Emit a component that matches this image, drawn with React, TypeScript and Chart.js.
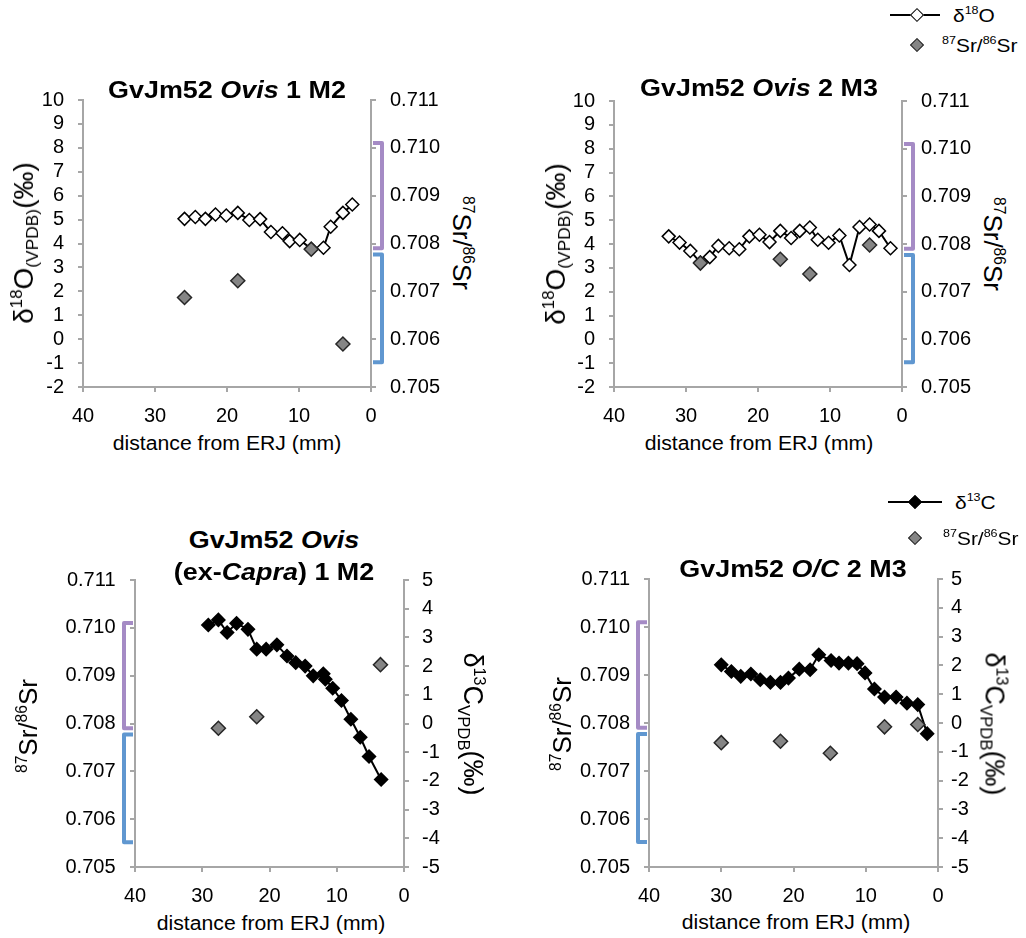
import React, { useEffect, useRef } from 'react';
import { Chart, registerables } from 'chart.js';
Chart.register(...registerables);

const FONT = '"Liberation Sans", Arial, Helvetica, sans-serif';
const AXIS_GRAY = '#A6A6A6';
const PURPLE = '#A58BC5';
const BLUE = '#6097D0';

// ---- data ----
// Top-left: GvJm52 Ovis 1 M2
const o1X = [25.9, 24.4, 23.0, 21.6, 20.1, 18.5, 16.9, 15.4, 13.9, 12.3, 11.3, 9.9, 8.3, 6.6, 5.6, 3.9, 2.6];
const o1Y = [5.03, 5.11, 5.03, 5.21, 5.17, 5.28, 4.98, 5.02, 4.48, 4.43, 4.1, 4.15, 3.78, 3.82, 4.7, 5.28, 5.63];
const s1X = [25.9, 18.5, 8.3, 3.9];
const s1Y = [0.70687, 0.70722, 0.70788, 0.7059];

// Top-right: GvJm52 Ovis 2 M3
const o2X = [32.4, 30.9, 29.4, 28.0, 26.7, 25.5, 24.0, 22.6, 21.2, 19.8, 18.4, 16.9, 15.4, 14.2, 12.8, 11.7, 10.2, 8.7, 7.3, 5.9, 4.5, 3.2, 1.6];
const o2Y = [4.32, 4.06, 3.71, 3.22, 3.45, 3.92, 3.82, 3.78, 4.32, 4.39, 4.08, 4.55, 4.25, 4.55, 4.69, 4.18, 4.05, 4.36, 3.12, 4.71, 4.82, 4.55, 3.82];
const s2X = [28.0, 16.9, 12.8, 4.5];
const s2Y = [0.7076, 0.70768, 0.70737, 0.70798];

// Bottom-left: GvJm52 Ovis (ex-Capra) 1 M2
const c3X = [29.1, 27.6, 26.3, 24.9, 23.2, 21.9, 20.5, 18.9, 17.4, 16.1, 14.7, 13.5, 12.0, 11.7, 10.6, 9.3, 7.9, 6.5, 5.2, 3.4];
const c3Y = [3.43, 3.61, 3.17, 3.49, 3.28, 2.59, 2.59, 2.74, 2.35, 2.12, 2.0, 1.66, 1.73, 1.54, 1.23, 0.8, 0.15, -0.48, -1.15, -1.95];
const s3X = [27.6, 21.9, 3.5];
const s3Y = [0.7079, 0.70814, 0.70923];

// Bottom-right: GvJm52 O/C 2 M3
const c4X = [30.0, 28.6, 27.3, 25.9, 24.6, 23.2, 21.8, 20.7, 19.2, 17.7, 16.5, 14.8, 13.7, 12.4, 11.2, 10.1, 8.8, 7.4, 5.8, 4.3, 2.8, 1.5];
const c4Y = [2.02, 1.79, 1.62, 1.7, 1.5, 1.41, 1.41, 1.56, 1.87, 1.85, 2.37, 2.17, 2.08, 2.08, 2.06, 1.74, 1.18, 0.9, 0.9, 0.69, 0.64, -0.37];
const s4X = [30.0, 21.8, 14.9, 7.4, 2.8];
const s4Y = [0.70759, 0.70762, 0.70737, 0.70792, 0.70797];

// Sr range brackets
const bracketPurple = [0.7079, 0.7101];
const bracketBlue = [0.70552, 0.70777];

// axis ranges / ticks
const xRange = [0, 40];
const xStep = 10;
const o18Range = [-2, 10];
const c13Range = [-5, 5];
const deltaStep = 1;
const srRange = [0.705, 0.711];
const srStep = 0.001;

type Geo = {
  leftW: number; rightW: number; padTop: number; xH: number;
  leftPad: number; rightPad: number;
};

const bracketPlugin = {
  id: 'srBrackets',
  afterDraw(chart: any, _args: any, opts: any) {
    const { ctx, chartArea } = chart;
    const scale = chart.scales[opts.axis];
    const dir = opts.side === 'right' ? 1 : -1;
    const edge = opts.side === 'right' ? chartArea.right : chartArea.left;
    const xv = edge + dir * 11;
    const xs = edge + dir * 2;
    const items: [number[], string][] = [[bracketPurple, PURPLE], [bracketBlue, BLUE]];
    ctx.save();
    ctx.lineWidth = 4;
    ctx.lineJoin = 'round';
    items.forEach(([r, col]) => {
      const y1 = scale.getPixelForValue(r[1]);
      const y2 = scale.getPixelForValue(r[0]);
      ctx.beginPath();
      ctx.moveTo(xs, y1);
      ctx.lineTo(xv, y1);
      ctx.lineTo(xv, y2);
      ctx.lineTo(xs, y2);
      ctx.strokeStyle = col;
      ctx.stroke();
    });
    ctx.restore();
  },
};

function makeConfig(
  lx: number[], ly: number[], open: boolean,
  sx: number[], sy: number[],
  srLeft: boolean, deltaRange: number[], g: Geo
): any {
  const tickFont = { family: FONT, size: 20 };
  const grid = { display: true, drawOnChartArea: false, drawTicks: true, tickLength: 5, color: AXIS_GRAY, lineWidth: 2 };
  const border = { display: true, color: AXIS_GRAY, width: 2 };
  const srScale = {
    type: 'linear', min: srRange[0], max: srRange[1],
    ticks: { stepSize: srStep, autoSkip: false, font: tickFont, color: '#000', callback: (v: any) => Number(v).toFixed(3) },
  };
  const dScale = {
    type: 'linear', min: deltaRange[0], max: deltaRange[1],
    ticks: { stepSize: deltaStep, autoSkip: false, font: tickFont, color: '#000' },
  };
  const leftBase = srLeft ? srScale : dScale;
  const rightBase = srLeft ? dScale : srScale;
  const fixV = (w: number) => (s: any) => { s.width = w; s.paddingTop = 0; s.paddingBottom = 0; };
  return {
    type: 'scatter',
    data: {
      datasets: [
        {
          label: 'Sr',
          data: sx.map((x, i) => ({ x, y: sy[i] })),
          yAxisID: srLeft ? 'yL' : 'yR',
          showLine: false,
          pointStyle: 'rectRot',
          pointRadius: 7,
          pointBackgroundColor: '#858585',
          pointBorderColor: '#262626',
          pointBorderWidth: 1.5,
        },
        {
          label: 'delta',
          data: lx.map((x, i) => ({ x, y: ly[i] })),
          yAxisID: srLeft ? 'yR' : 'yL',
          showLine: true,
          borderColor: '#000',
          borderWidth: 2,
          pointStyle: 'rectRot',
          pointRadius: 6.5,
          pointBackgroundColor: open ? '#fff' : '#000',
          pointBorderColor: '#000',
          pointBorderWidth: 1.5,
        },
      ],
    },
    options: {
      responsive: false,
      animation: false,
      layout: { padding: { top: g.padTop, left: 0, right: 0, bottom: 0 } },
      plugins: {
        legend: { display: false },
        tooltip: { enabled: false },
        srBrackets: { axis: srLeft ? 'yL' : 'yR', side: srLeft ? 'left' : 'right' },
      },
      scales: {
        x: {
          type: 'linear', reverse: true, min: xRange[0], max: xRange[1],
          ticks: { stepSize: xStep, autoSkip: false, font: tickFont, color: '#000', padding: 12, maxRotation: 0 },
          grid, border,
          afterFit: (s: any) => { s.height = g.xH; s.paddingLeft = 0; s.paddingRight = 0; },
        },
        yL: {
          ...leftBase, position: 'left',
          ticks: { ...leftBase.ticks, padding: g.leftPad },
          grid, border,
          afterFit: fixV(g.leftW),
        },
        yR: {
          ...rightBase, position: 'right',
          ticks: { ...rightBase.ticks, padding: g.rightPad },
          grid, border,
          afterFit: fixV(g.rightW),
        },
      },
    },
    plugins: [bracketPlugin],
  };
}

function ChartBox(props: { left: number; top: number; width: number; height: number; config: () => any }) {
  const ref = useRef<HTMLCanvasElement>(null);
  useEffect(() => {
    const chart = new Chart(ref.current as HTMLCanvasElement, props.config());
    return () => chart.destroy();
  }, []);
  return (
    <canvas
      ref={ref}
      width={props.width}
      height={props.height}
      style={{ position: 'absolute', left: props.left, top: props.top, width: props.width, height: props.height, display: 'block' }}
    />
  );
}

const sup = (t: string) => <span style={{ fontSize: '0.6em', verticalAlign: '0.65em', lineHeight: 0 }}>{t}</span>;
const sub = (t: string) => <span style={{ fontSize: '0.62em', verticalAlign: '-0.3em', lineHeight: 0 }}>{t}</span>;

function Txt(props: { x: number; y: number; size: number; rot?: number; sx?: number; bold?: boolean; align?: 'center' | 'left'; children: any }) {
  const tx = props.align === 'left' ? '0' : '-50%';
  const tf = `translate(${tx},-50%)` + (props.rot ? ` rotate(${props.rot}deg)` : '') + (props.sx ? ` scaleX(${props.sx})` : '');
  return (
    <div
      style={{
        position: 'absolute', left: props.x, top: props.y, transform: tf,
        transformOrigin: props.align === 'left' ? 'left center' : 'center center',
        whiteSpace: 'nowrap', fontFamily: FONT, fontSize: props.size, lineHeight: 1,
        fontWeight: props.bold ? 'bold' : 'normal', color: '#000',
      }}
    >
      {props.children}
    </div>
  );
}

function Diamond(props: { x: number; y: number; fill: string; stroke: string }) {
  return (
    <div
      style={{
        position: 'absolute', left: props.x - 5, top: props.y - 5, width: 10, height: 10,
        boxSizing: 'border-box', background: props.fill, border: `1.5px solid ${props.stroke}`,
        transform: 'rotate(45deg)',
      }}
    />
  );
}

function LegendLine(props: { x1: number; x2: number; y: number }) {
  return <div style={{ position: 'absolute', left: props.x1, top: props.y - 1, width: props.x2 - props.x1, height: 2, background: '#000' }} />;
}

const geoTop1: Geo = { leftW: 83, rightW: 69, padTop: 14, xH: 41, leftPad: 14, rightPad: 14 };
const geoTop2: Geo = { leftW: 83, rightW: 69, padTop: 14, xH: 41, leftPad: 14, rightPad: 14 };
const geoBot3: Geo = { leftW: 95, rightW: 60, padTop: 14, xH: 41, leftPad: 14.5, rightPad: 13 };
const geoBot4: Geo = { leftW: 95, rightW: 60, padTop: 14, xH: 41, leftPad: 14, rightPad: 8 };

const d18 = <>δ{sup('18')}O{sub('(VPDB)')}(‰)</>;
const d13 = <>δ{sup('13')}C{sub('VPDB')}(‰)</>;
const srT = <>{sup('87')}Sr/{sup('86')}Sr</>;
const xTitle = 'distance from ERJ (mm)';

export default function App() {
  return (
    <div style={{ position: 'absolute', left: 0, top: 0, width: 1026, height: 938, background: '#fff', overflow: 'hidden' }}>
      <ChartBox left={0} top={86} width={440} height={342} config={() => makeConfig(o1X, o1Y, true, s1X, s1Y, false, o18Range, geoTop1)} />
      <ChartBox left={531} top={87} width={440} height={341} config={() => makeConfig(o2X, o2Y, true, s2X, s2Y, false, o18Range, geoTop2)} />
      <ChartBox left={40} top={566} width={424} height={342} config={() => makeConfig(c3X, c3Y, false, s3X, s3Y, true, c13Range, geoBot3)} />
      <ChartBox left={554} top={565} width={444} height={343} config={() => makeConfig(c4X, c4Y, false, s4X, s4Y, true, c13Range, geoBot4)} />

      {/* titles */}
      <Txt x={227} y={90} size={23} bold sx={1.17}>GvJm52 <i>Ovis</i> 1 M2</Txt>
      <Txt x={759} y={88} size={23} bold sx={1.17}>GvJm52 <i>Ovis</i> 2 M3</Txt>
      <Txt x={274} y={540} size={23} bold sx={1.17}>GvJm52 <i>Ovis</i></Txt>
      <Txt x={274} y={572} size={23} bold sx={1.17}>(ex-<i>Capra</i>) 1 M2</Txt>
      <Txt x={793} y={569} size={23} bold sx={1.17}>GvJm52 <i>O/C</i> 2 M3</Txt>

      {/* x titles */}
      <Txt x={227} y={443} size={20} sx={1.06}>{xTitle}</Txt>
      <Txt x={759} y={443} size={20} sx={1.06}>{xTitle}</Txt>
      <Txt x={271} y={923} size={20} sx={1.06}>{xTitle}</Txt>
      <Txt x={796} y={922} size={20} sx={1.06}>{xTitle}</Txt>

      {/* y titles */}
      <Txt x={24} y={243} size={28} rot={-90}>{d18}</Txt>
      <Txt x={462} y={243} size={26} rot={90}>{srT}</Txt>
      <Txt x={556} y={244} size={28} rot={-90}>{d18}</Txt>
      <Txt x={993} y={244} size={26} rot={90}>{srT}</Txt>
      <Txt x={28} y={726} size={26} rot={-90}>{srT}</Txt>
      <Txt x={472} y={724} size={27} rot={90}>{d13}</Txt>
      <Txt x={562} y={724} size={26} rot={-90}>{srT}</Txt>
      <Txt x={994} y={724} size={27} rot={90}>{d13}</Txt>

      {/* legend top */}
      <LegendLine x1={890} x2={940} y={15} />
      <Diamond x={917} y={15} fill="#fff" stroke="#000" />
      <Txt x={953} y={15} size={19} align="left" sx={1.1}>δ{sup('18')}O</Txt>
      <Diamond x={917} y={45} fill="#858585" stroke="#262626" />
      <Txt x={942} y={45} size={19} align="left" sx={1.1}>{srT}</Txt>

      {/* legend bottom */}
      <LegendLine x1={888} x2={942} y={502} />
      <Diamond x={915} y={502} fill="#000" stroke="#000" />
      <Txt x={955} y={502} size={19} align="left" sx={1.1}>δ{sup('13')}C</Txt>
      <Diamond x={915} y={538} fill="#858585" stroke="#262626" />
      <Txt x={943} y={538} size={19} align="left" sx={1.1}>{srT}</Txt>
    </div>
  );
}
